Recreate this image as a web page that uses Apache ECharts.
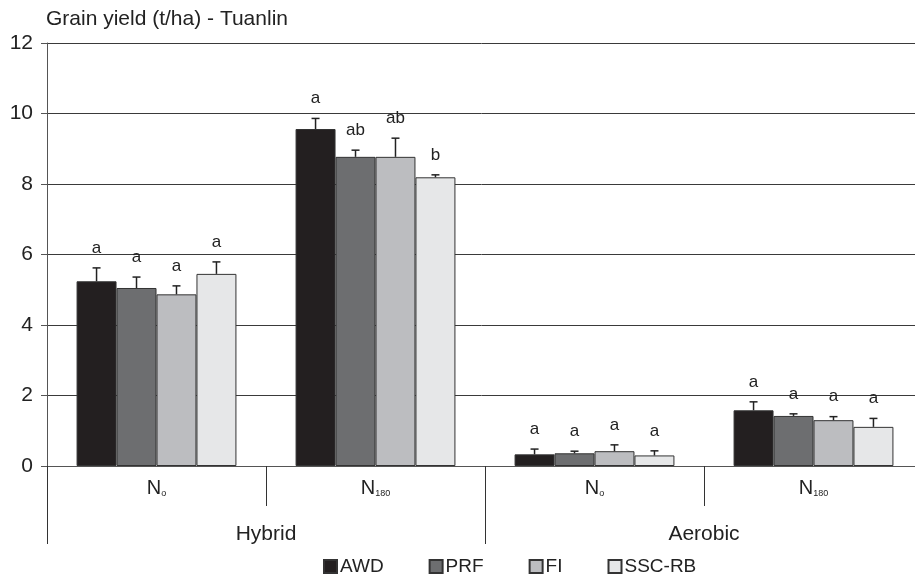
<!DOCTYPE html>
<html lang="en" style="height: 100%">
<head>
  <meta charset="utf-8">
</head>
<body style="height: 100%; margin: 0; background: #fff">
  <div id="container" style="width: 915px; height: 582px"></div>

  <script type="text/javascript" src="https://cdn.jsdelivr.net/npm/echarts@6.0.0/dist/echarts.min.js"></script>

  <script type="text/javascript">
    // nitrogen level (subscript after N) and rice type groups
    var nLevels = ['o', '180', 'o', '180'];
    var riceTypes = ['Hybrid', 'Aerobic'];
    var treatments = ['AWD', 'PRF', 'FI', 'SSC-RB'];

    // grain yield (t/ha)
    var yieldAWD = [5.24, 9.56, 0.33, 1.58];
    var yieldPRF = [5.05, 8.77, 0.36, 1.42];
    var yieldFI = [4.87, 8.77, 0.42, 1.30];
    var yieldSSC = [5.45, 8.19, 0.30, 1.11];

    // error bar size
    var errAWD = [0.38, 0.30, 0.15, 0.24];
    var errPRF = [0.31, 0.19, 0.06, 0.06];
    var errFI = [0.24, 0.53, 0.18, 0.10];
    var errSSC = [0.34, 0.07, 0.13, 0.24];

    // significance letters
    var lettersAWD = ['a', 'a', 'a', 'a'];
    var lettersPRF = ['a', 'ab', 'a', 'a'];
    var lettersFI = ['a', 'ab', 'a', 'a'];
    var lettersSSC = ['a', 'b', 'a', 'a'];

    var yieldSets = [yieldAWD, yieldPRF, yieldFI, yieldSSC];
    var errSets = [errAWD, errPRF, errFI, errSSC];
    var letterSets = [lettersAWD, lettersPRF, lettersFI, lettersSSC];
    var colors = ['#231f20', '#6d6e70', '#bcbdc0', '#e6e7e8'];

    var catGap = 0.27;
    var font = 'Liberation Sans, Arial, sans-serif';

    var dom = document.getElementById('container');
    var myChart = echarts.init(dom, null, { renderer: 'canvas' });

    function errRender(si) {
      return function (params, api) {
        var x = api.value(0);
        var v = api.value(1);
        var e = api.value(2);
        var band = api.size([1, 0])[0];
        var bw = band * (1 - catGap) / 4;
        var base = api.coord([x, v]);
        var cx = base[0] + (si - 1.5) * bw;
        var top = api.coord([x, v + e])[1];
        var letter = letterSets[si][params.dataIndex];
        var st = { stroke: '#222', lineWidth: 1.5 };
        return {
          type: 'group',
          children: [
            { type: 'line', shape: { x1: cx, y1: base[1], x2: cx, y2: top }, style: st },
            { type: 'line', shape: { x1: cx - 4, y1: top, x2: cx + 4, y2: top }, style: st },
            {
              type: 'text',
              style: {
                x: cx, y: top - 20, text: letter, fill: '#222',
                font: '17px ' + font, align: 'center', verticalAlign: 'middle'
              }
            }
          ]
        };
      };
    }

    var series = [];
    treatments.forEach(function (name, si) {
      series.push({
        name: name,
        type: 'bar',
        xAxisIndex: 0,
        barGap: '0%',
        barCategoryGap: (catGap * 100) + '%',
        data: yieldSets[si],
        itemStyle: { color: colors[si], borderColor: '#333', borderWidth: 1 }
      });
    });
    treatments.forEach(function (name, si) {
      series.push({
        type: 'custom',
        xAxisIndex: 0,
        z: 5,
        renderItem: errRender(si),
        encode: { x: 0, y: 1 },
        data: yieldSets[si].map(function (v, i) { return [i, v, errSets[si][i]]; })
      });
    });

    var option = {
      animation: false,
      backgroundColor: '#fff',
      textStyle: { fontFamily: font },
      title: {
        text: 'Grain yield (t/ha) - Tuanlin',
        left: 41,
        top: 4,
        textStyle: { fontSize: 21, fontWeight: 'normal', color: '#222' }
      },
      legend: {
        data: treatments,
        left: 318,
        top: 552,
        icon: 'rect',
        itemWidth: 13,
        itemHeight: 13,
        itemGap: 45,
        textStyle: { fontSize: 19, color: '#222', padding: [0, 0, 0, -2] }
      },
      grid: { left: 47, width: 876, top: 43, bottom: 116, outerBoundsMode: 'none' },
      xAxis: [
        {
          type: 'category',
          data: nLevels,
          axisLine: { lineStyle: { color: '#555', width: 1 } },
          axisTick: { show: true, length: 40, lineStyle: { color: '#333' } },
          axisLabel: {
            margin: 12,
            color: '#222',
            formatter: function (v) { return 'N{s|' + v + '}'; },
            rich: {
              s: { fontSize: 9, color: '#222', verticalAlign: 'bottom', padding: [9, 0, 0, 0] }
            },
            fontSize: 20
          }
        },
        {
          type: 'category',
          data: riceTypes,
          position: 'bottom',
          axisLine: { show: false },
          axisTick: { show: true, length: 78, lineStyle: { color: '#333' } },
          axisLabel: { margin: 58, fontSize: 21, color: '#222' }
        }
      ],
      yAxis: {
        type: 'value',
        min: 0,
        max: 12,
        interval: 2,
        axisLine: { show: true, lineStyle: { color: '#555' } },
        axisTick: { show: true, length: 6, lineStyle: { color: '#555' } },
        axisLabel: { margin: 14, fontSize: 21, color: '#222' },
        splitLine: { lineStyle: { color: '#3a3a3a', width: 1 } }
      },
      series: series
    };

    myChart.setOption(option);
    window.addEventListener('resize', myChart.resize);
  </script>
</body>
</html>
